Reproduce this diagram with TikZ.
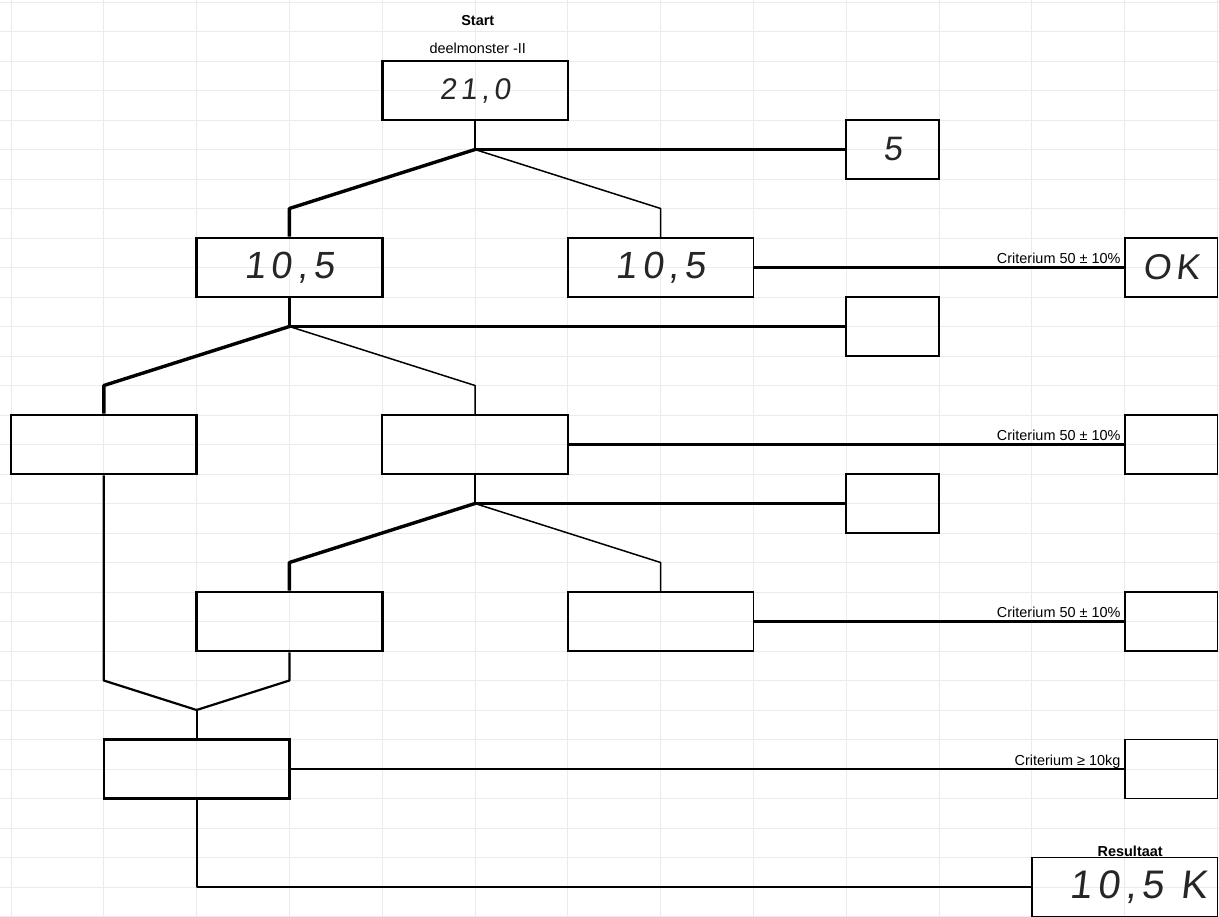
\documentclass[tikz,border=0pt]{standalone}
\usepackage{fontspec}
\setmainfont{Liberation Sans}
\newfontfamily\hand{Liberation Sans}[FakeSlant=0.12, LetterSpace=14]
\begin{document}
\begin{tikzpicture}[x=92.8bp,y=-29.5bp,
  gridln/.style={draw=black!8, line width=0.8bp},
  box/.style={draw, line width=1.8bp, minimum width=185.6bp, minimum height=59bp, inner sep=0pt,
    font=\hand\fontsize{38}{40}\selectfont, text=black!85},
  boxthick/.style={box, line width=2.6bp},
  smallbox/.style={box, minimum width=92.8bp},
  thickln/.style={line width=3.4bp, line join=round},
  thinln/.style={line width=1.5bp, line join=round},
  medln/.style={line width=2.2bp, line join=round},
  lbl/.style={font=\fontsize{14.5}{16}\selectfont, inner sep=0pt},
  blbl/.style={font=\bfseries\fontsize{14.5}{16}\selectfont, inner sep=0pt}]
\path[use as bounding box] (-0.11853,-0.0678) rectangle (13.0172,31.0169);
% background grid
\foreach \i in {0,...,13} \draw[gridln] (\i,-0.0678) -- (\i,31.0169);
\foreach \j in {0,...,31} \draw[gridln] (-0.11853,\j) -- (13.0172,\j);

% boxes
\node[boxthick, font=\hand\fontsize{30}{32}\selectfont] (b0) at (5,3) {21,0};
\node[smallbox, font=\hand\fontsize{34}{36}\selectfont] (b5) at (9.5,5) {5};
\node[boxthick] (b1) at (3,9) {10,5};
\node[box] (b2) at (7,9) {10,5};
\node[smallbox, font=\hand\fontsize{36}{38}\selectfont] (c1) at (12.5,9) {OK};
\node[smallbox] (b6) at (9.5,11) {};
\node[boxthick] (b3) at (1,15) {};
\node[box] (b4) at (5,15) {};
\node[smallbox] (c2) at (12.5,15) {};
\node[smallbox] (b7) at (9.5,17) {};
\node[boxthick] (b8) at (3,21) {};
\node[box] (b9) at (7,21) {};
\node[smallbox] (c3) at (12.5,21) {};
\node[boxthick] (b10) at (2,26) {};
\node[smallbox] (c4) at (12.5,26) {};
\node[box, font=\hand\fontsize{40}{42}\selectfont] (res) at (12,30) {\hspace*{28bp}10,5 K};

% labels
\node[blbl, anchor=base] (tstart) at (5.03,0.78) {Start};
\node[lbl, anchor=base] (tdeel) at (5.03,1.76) {deelmonster -II};
\node[blbl, anchor=base] (tres) at (12.06,28.95) {Resultaat};
\node[lbl, anchor=base east] (l1) at ([xshift=-3bp,yshift=4bp]c1.west) {Criterium 50 ± 10\%};
\node[lbl, anchor=base east] (l2) at ([xshift=-3bp,yshift=4bp]c2.west) {Criterium 50 ± 10\%};
\node[lbl, anchor=base east] (l3) at ([xshift=-3bp,yshift=4bp]c3.west) {Criterium 50 ± 10\%};
\node[lbl, anchor=base east] (l4) at ([xshift=-3bp,yshift=4bp]c4.west) {Criterium ≥ 10kg};

% first split
\coordinate (j0) at (5,5);
\coordinate (k0l) at (3,7);
\coordinate (k0r) at (7,7);
\draw[medln] (b0.south) -- (j0);
\draw[medln] (j0) -- (b5.west);
\draw[thickln] (j0) -- (k0l) -- (b1.north);
\draw[thinln] (j0) -- (k0r) -- (b2.north);
\draw[medln] (b2.east) -- (c1.west);

% second split
\coordinate (j1) at (3,11);
\coordinate (k1l) at (1,13);
\coordinate (k1r) at (5,13);
\draw[medln] (b1.south) -- (j1);
\draw[medln] (j1) -- (b6.west);
\draw[thickln] (j1) -- (k1l) -- (b3.north);
\draw[thinln] (j1) -- (k1r) -- (b4.north);
\draw[medln] (b4.east) -- (c2.west);

% third split
\coordinate (j2) at (5,17);
\coordinate (k2l) at (3,19);
\coordinate (k2r) at (7,19);
\draw[medln] (b4.south) -- (j2);
\draw[medln] (j2) -- (b7.west);
\draw[thickln] (j2) -- (k2l) -- (b8.north);
\draw[thinln] (j2) -- (k2r) -- (b9.north);
\draw[medln] (b9.east) -- (c3.west);

% merge
\coordinate (ml) at (1,23);
\coordinate (mr) at (3,23);
\coordinate (m) at (2,24);
\draw[medln] (b3.south) -- (ml) -- (m);
\draw[medln] (b8.south) -- (mr) -- (m);
\draw[medln] (m) -- (b10.north);
\draw[medln] (b10.east) -- (c4.west);

% result
\coordinate (rb) at (2,30);
\draw[medln] (b10.south) -- (rb) -- (res.west);
\end{tikzpicture}
\end{document}
